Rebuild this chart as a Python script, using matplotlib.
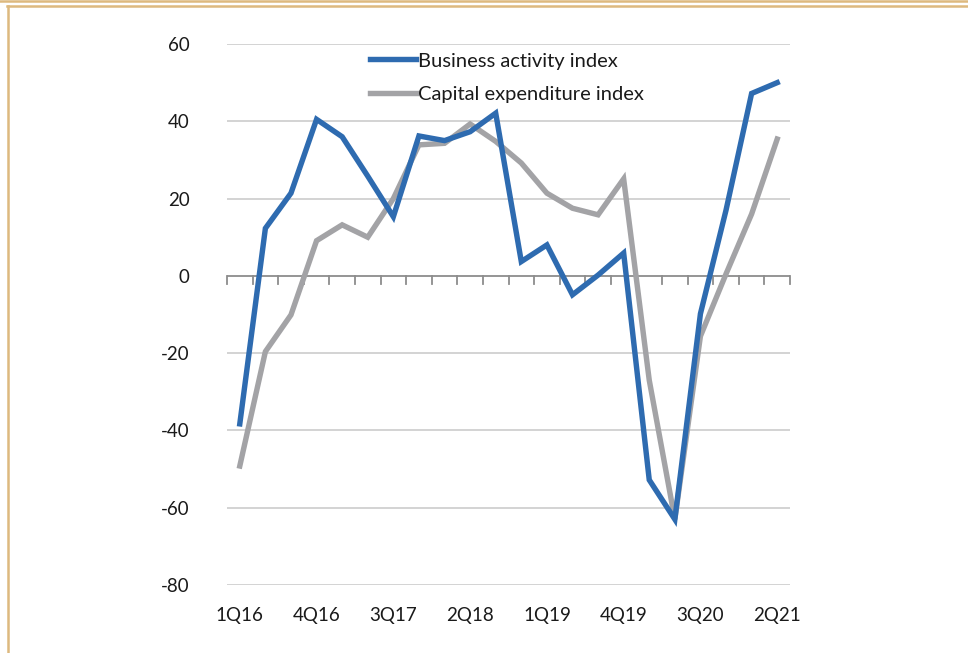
import numpy as np
import matplotlib
matplotlib.use('Agg')
import matplotlib.pyplot as plt
from matplotlib.lines import Line2D

# quarterly survey indices, 1Q16 .. 2Q21
quarters = ['1Q16', '2Q16', '3Q16', '4Q16', '1Q17', '2Q17', '3Q17', '4Q17',
            '1Q18', '2Q18', '3Q18', '4Q18', '1Q19', '2Q19', '3Q19', '4Q19',
            '1Q20', '2Q20', '3Q20', '4Q20', '1Q21', '2Q21']
business = [-38.3, 12.3, 21.4, 40.5, 36.0, 25.8, 15.3, 36.2, 35.0, 37.3, 42.1,
            3.7, 8.0, -4.9, 0.2, 5.9, -52.8, -63.0, -9.8, 17.0, 47.2, 50.0]
capex = [-49.2, -19.6, -10.1, 9.1, 13.2, 10.0, 20.0, 33.9, 34.3, 39.3, 34.8,
         29.2, 21.4, 17.5, 15.8, 25.1, -27.0, -63.0, -15.6, 0.5, 16.0, 35.4]
yticks = [60, 40, 20, 0, -20, -40, -60, -80]

blue = '#2E6BB0'
grey = '#A3A3A6'
txt = '#1A1A1A'

plt.rcParams['font.family'] = ['Lato', 'DejaVu Sans']

fig = plt.figure(figsize=(9.68, 6.53), dpi=100)
ax = fig.add_axes([227/968, 1-585/653, (790-227)/968, (585-44)/653])

x = np.arange(len(quarters))
ax.plot(x, business, color=blue, lw=3.9, solid_joinstyle='miter', label='Business activity index', zorder=3)
ax.plot(x, capex, color=grey, lw=3.9, solid_joinstyle='miter', label='Capital expenditure index', zorder=2)

ax.set_xlim(-0.5, len(quarters)-0.5)
ax.set_ylim(-80, 60)
ax.set_yticks(yticks)
ax.set_yticklabels([str(v) for v in yticks], fontsize=13.5, color=txt)
for v in yticks:
    if v != 0:
        ax.axhline(v, color='#D0D0D0', lw=1.3, zorder=1)
ax.axhline(0, color='#8C8C8C', lw=1.3, zorder=1)
# small category ticks hanging under the zero line
for b in np.arange(-0.5, len(quarters), 1.0):
    ax.plot([b, b], [0, -2.0], color='#8C8C8C', lw=1.3, zorder=1, clip_on=False)

ax.set_xticks(x[::3])
ax.set_xticklabels(quarters[::3], fontsize=13.5, color=txt)
ax.tick_params(axis='both', length=0)
ax.tick_params(axis='x', pad=16)
ax.tick_params(axis='y', pad=27)
for s in ax.spines.values():
    s.set_visible(False)

leg = ax.legend(loc='upper left', bbox_to_anchor=(0.236, 1.003), frameon=False,
                fontsize=14.5, handlelength=2.3, handletextpad=0.1, labelspacing=0.8,
                borderaxespad=0.1)
for t in leg.get_texts():
    t.set_color(txt)

# tan frame round the picture
tan = '#DDB97F'
fig.add_artist(Line2D([0, 1], [1-0.8/653, 1-0.8/653], color=tan, lw=1.8))
fig.add_artist(Line2D([7/968, 1], [1-5.5/653, 1-5.5/653], color=tan, lw=1.8))
fig.add_artist(Line2D([7.5/968, 7.5/968], [0, 1-5.5/653], color=tan, lw=1.8))

fig.savefig('out.png', dpi=100)
